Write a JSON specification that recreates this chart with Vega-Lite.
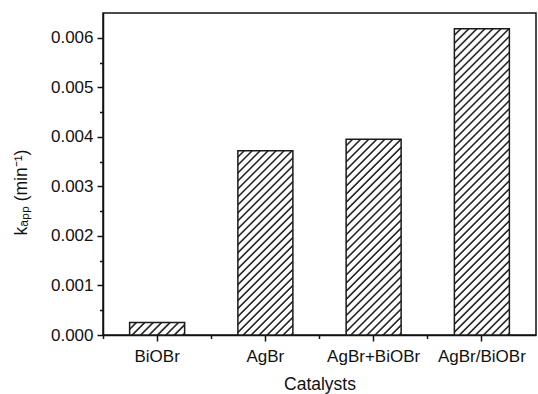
{
  "$schema": "https://vega.github.io/schema/vega-lite/v6.json",
  "width": 433,
  "height": 322,
  "autosize": {"type": "none"},
  "padding": {"left": 103, "top": 13, "right": 2, "bottom": 59},
  "background": "white",
  "config": {
    "view": {"stroke": "#111", "strokeWidth": 1.5},
    "font": "Liberation Sans",
    "axis": {"labelFont": "Liberation Sans", "titleFont": "Liberation Sans", "grid": false}
  },
  "data": {
    "values": [
      {"catalyst": "BiOBr", "kapp": 0.00025},
      {"catalyst": "AgBr", "kapp": 0.00372},
      {"catalyst": "AgBr+BiOBr", "kapp": 0.00395},
      {"catalyst": "AgBr/BiOBr", "kapp": 0.00618}
    ]
  },
  "layer": [
    {
      "mark": {"type": "bar", "width": 55, "stroke": "#1a1a1a", "strokeWidth": 1.5},
      "encoding": {
        "x": {
          "field": "catalyst", "type": "nominal", "sort": null,
          "scale": {"paddingInner": 0, "paddingOuter": 0},
          "axis": {
            "orient": "bottom", "title": "Catalysts", "labelAngle": 0, "labelFontSize": 17, "labelColor": "#111",
            "labelBaseline": "alphabetic", "labelPadding": 20.5, "labelOverlap": false,
            "tickSize": 6, "tickColor": "#111", "tickWidth": 1.5, "domainColor": "#111", "domainWidth": 1.5,
            "titleFontSize": 17.5, "titleFontWeight": "normal", "titleColor": "#111",
            "titleBaseline": "alphabetic", "titleY": 54.5
          }
        },
        "y": {
          "field": "kapp", "type": "quantitative",
          "scale": {"domain": [0, 0.0065], "nice": false, "zero": true},
          "axis": {
            "orient": "left", "title": "kₐₚₚ (min⁻¹)", "values": [0, 0.001, 0.002, 0.003, 0.004, 0.005, 0.006],
            "format": ".3f", "labelFontSize": 17, "labelColor": "#111", "labelPadding": 4,
            "tickSize": 6, "tickColor": "#111", "tickWidth": 1.5, "domainColor": "#111", "domainWidth": 1.5,
            "titleFontSize": 17.5, "titleFontWeight": "normal", "titleColor": "#111",
            "titleBaseline": "alphabetic", "titleAlign": "center", "titleAngle": 270, "titleX": -77, "titleY": 179
          }
        },
        "fill": {
          "condition": [
            {"test": "datum.catalyst === 'BiOBr'", "value": {"gradient": "linear", "x1": 0, "y1": 0, "x2": 1.1662, "y2": 0.2629, "stops": [
              {"offset":0,"color":"#fff"},{"offset":0.06875,"color":"#fff"},{"offset":0.09375,"color":"#222"},{"offset":0.10625,"color":"#222"},
              {"offset":0.125,"color":"#fff"},{"offset":0.19375,"color":"#fff"},{"offset":0.21875,"color":"#222"},{"offset":0.23125,"color":"#222"},
              {"offset":0.25,"color":"#fff"},{"offset":0.31875,"color":"#fff"},{"offset":0.34375,"color":"#222"},{"offset":0.35625,"color":"#222"},
              {"offset":0.375,"color":"#fff"},{"offset":0.44375,"color":"#fff"},{"offset":0.46875,"color":"#222"},{"offset":0.48125,"color":"#222"},
              {"offset":0.5,"color":"#fff"},{"offset":0.56875,"color":"#fff"},{"offset":0.59375,"color":"#222"},{"offset":0.60625,"color":"#222"},
              {"offset":0.625,"color":"#fff"},{"offset":0.69375,"color":"#fff"},{"offset":0.71875,"color":"#222"},{"offset":0.73125,"color":"#222"},
              {"offset":0.75,"color":"#fff"},{"offset":0.81875,"color":"#fff"},{"offset":0.84375,"color":"#222"},{"offset":0.85625,"color":"#222"},
              {"offset":0.875,"color":"#fff"},{"offset":0.94375,"color":"#fff"},{"offset":0.96875,"color":"#222"},{"offset":0.98125,"color":"#222"},
              {"offset":1,"color":"#fff"}
            ]}},
            {"test": "datum.catalyst === 'AgBr'", "value": {"gradient": "linear", "x1": 0, "y1": 0, "x2": 0.3558, "y2": 1.19226, "stops": [
              {"offset":0,"color":"#fff"},{"offset":0.01833,"color":"#fff"},{"offset":0.025,"color":"#222"},{"offset":0.02833,"color":"#222"},
              {"offset":0.03333,"color":"#fff"},{"offset":0.05167,"color":"#fff"},{"offset":0.05833,"color":"#222"},{"offset":0.06167,"color":"#222"},
              {"offset":0.06667,"color":"#fff"},{"offset":0.085,"color":"#fff"},{"offset":0.09167,"color":"#222"},{"offset":0.095,"color":"#222"},
              {"offset":0.1,"color":"#fff"},{"offset":0.11833,"color":"#fff"},{"offset":0.125,"color":"#222"},{"offset":0.12833,"color":"#222"},
              {"offset":0.13333,"color":"#fff"},{"offset":0.15167,"color":"#fff"},{"offset":0.15833,"color":"#222"},{"offset":0.16167,"color":"#222"},
              {"offset":0.16667,"color":"#fff"},{"offset":0.185,"color":"#fff"},{"offset":0.19167,"color":"#222"},{"offset":0.195,"color":"#222"},
              {"offset":0.2,"color":"#fff"},{"offset":0.21833,"color":"#fff"},{"offset":0.225,"color":"#222"},{"offset":0.22833,"color":"#222"},
              {"offset":0.23333,"color":"#fff"},{"offset":0.25167,"color":"#fff"},{"offset":0.25833,"color":"#222"},{"offset":0.26167,"color":"#222"},
              {"offset":0.26667,"color":"#fff"},{"offset":0.285,"color":"#fff"},{"offset":0.29167,"color":"#222"},{"offset":0.295,"color":"#222"},
              {"offset":0.3,"color":"#fff"},{"offset":0.31833,"color":"#fff"},{"offset":0.325,"color":"#222"},{"offset":0.32833,"color":"#222"},
              {"offset":0.33333,"color":"#fff"},{"offset":0.35167,"color":"#fff"},{"offset":0.35833,"color":"#222"},{"offset":0.36167,"color":"#222"},
              {"offset":0.36667,"color":"#fff"},{"offset":0.385,"color":"#fff"},{"offset":0.39167,"color":"#222"},{"offset":0.395,"color":"#222"},
              {"offset":0.4,"color":"#fff"},{"offset":0.41833,"color":"#fff"},{"offset":0.425,"color":"#222"},{"offset":0.42833,"color":"#222"},
              {"offset":0.43333,"color":"#fff"},{"offset":0.45167,"color":"#fff"},{"offset":0.45833,"color":"#222"},{"offset":0.46167,"color":"#222"},
              {"offset":0.46667,"color":"#fff"},{"offset":0.485,"color":"#fff"},{"offset":0.49167,"color":"#222"},{"offset":0.495,"color":"#222"},
              {"offset":0.5,"color":"#fff"},{"offset":0.51833,"color":"#fff"},{"offset":0.525,"color":"#222"},{"offset":0.52833,"color":"#222"},
              {"offset":0.53333,"color":"#fff"},{"offset":0.55167,"color":"#fff"},{"offset":0.55833,"color":"#222"},{"offset":0.56167,"color":"#222"},
              {"offset":0.56667,"color":"#fff"},{"offset":0.585,"color":"#fff"},{"offset":0.59167,"color":"#222"},{"offset":0.595,"color":"#222"},
              {"offset":0.6,"color":"#fff"},{"offset":0.61833,"color":"#fff"},{"offset":0.625,"color":"#222"},{"offset":0.62833,"color":"#222"},
              {"offset":0.63333,"color":"#fff"},{"offset":0.65167,"color":"#fff"},{"offset":0.65833,"color":"#222"},{"offset":0.66167,"color":"#222"},
              {"offset":0.66667,"color":"#fff"},{"offset":0.685,"color":"#fff"},{"offset":0.69167,"color":"#222"},{"offset":0.695,"color":"#222"},
              {"offset":0.7,"color":"#fff"},{"offset":0.71833,"color":"#fff"},{"offset":0.725,"color":"#222"},{"offset":0.72833,"color":"#222"},
              {"offset":0.73333,"color":"#fff"},{"offset":0.75167,"color":"#fff"},{"offset":0.75833,"color":"#222"},{"offset":0.76167,"color":"#222"},
              {"offset":0.76667,"color":"#fff"},{"offset":0.785,"color":"#fff"},{"offset":0.79167,"color":"#222"},{"offset":0.795,"color":"#222"},
              {"offset":0.8,"color":"#fff"},{"offset":0.81833,"color":"#fff"},{"offset":0.825,"color":"#222"},{"offset":0.82833,"color":"#222"},
              {"offset":0.83333,"color":"#fff"},{"offset":0.85167,"color":"#fff"},{"offset":0.85833,"color":"#222"},{"offset":0.86167,"color":"#222"},
              {"offset":0.86667,"color":"#fff"},{"offset":0.885,"color":"#fff"},{"offset":0.89167,"color":"#222"},{"offset":0.895,"color":"#222"},
              {"offset":0.9,"color":"#fff"},{"offset":0.91833,"color":"#fff"},{"offset":0.925,"color":"#222"},{"offset":0.92833,"color":"#222"},
              {"offset":0.93333,"color":"#fff"},{"offset":0.95167,"color":"#fff"},{"offset":0.95833,"color":"#222"},{"offset":0.96167,"color":"#222"},
              {"offset":0.96667,"color":"#fff"},{"offset":0.985,"color":"#fff"},{"offset":0.99167,"color":"#222"},{"offset":0.995,"color":"#222"},
              {"offset":1,"color":"#fff"}
            ]}},
            {"test": "datum.catalyst === 'AgBr+BiOBr'", "value": {"gradient": "linear", "x1": 0, "y1": 0, "x2": 0.33367, "y2": 1.18727, "stops": [
              {"offset":0,"color":"#fff"},{"offset":0.01774,"color":"#fff"},{"offset":0.02419,"color":"#222"},{"offset":0.02742,"color":"#222"},
              {"offset":0.03226,"color":"#fff"},{"offset":0.05,"color":"#fff"},{"offset":0.05645,"color":"#222"},{"offset":0.05968,"color":"#222"},
              {"offset":0.06452,"color":"#fff"},{"offset":0.08226,"color":"#fff"},{"offset":0.08871,"color":"#222"},{"offset":0.09194,"color":"#222"},
              {"offset":0.09677,"color":"#fff"},{"offset":0.11452,"color":"#fff"},{"offset":0.12097,"color":"#222"},{"offset":0.12419,"color":"#222"},
              {"offset":0.12903,"color":"#fff"},{"offset":0.14677,"color":"#fff"},{"offset":0.15323,"color":"#222"},{"offset":0.15645,"color":"#222"},
              {"offset":0.16129,"color":"#fff"},{"offset":0.17903,"color":"#fff"},{"offset":0.18548,"color":"#222"},{"offset":0.18871,"color":"#222"},
              {"offset":0.19355,"color":"#fff"},{"offset":0.21129,"color":"#fff"},{"offset":0.21774,"color":"#222"},{"offset":0.22097,"color":"#222"},
              {"offset":0.22581,"color":"#fff"},{"offset":0.24355,"color":"#fff"},{"offset":0.25,"color":"#222"},{"offset":0.25323,"color":"#222"},
              {"offset":0.25806,"color":"#fff"},{"offset":0.27581,"color":"#fff"},{"offset":0.28226,"color":"#222"},{"offset":0.28548,"color":"#222"},
              {"offset":0.29032,"color":"#fff"},{"offset":0.30806,"color":"#fff"},{"offset":0.31452,"color":"#222"},{"offset":0.31774,"color":"#222"},
              {"offset":0.32258,"color":"#fff"},{"offset":0.34032,"color":"#fff"},{"offset":0.34677,"color":"#222"},{"offset":0.35,"color":"#222"},
              {"offset":0.35484,"color":"#fff"},{"offset":0.37258,"color":"#fff"},{"offset":0.37903,"color":"#222"},{"offset":0.38226,"color":"#222"},
              {"offset":0.3871,"color":"#fff"},{"offset":0.40484,"color":"#fff"},{"offset":0.41129,"color":"#222"},{"offset":0.41452,"color":"#222"},
              {"offset":0.41935,"color":"#fff"},{"offset":0.4371,"color":"#fff"},{"offset":0.44355,"color":"#222"},{"offset":0.44677,"color":"#222"},
              {"offset":0.45161,"color":"#fff"},{"offset":0.46935,"color":"#fff"},{"offset":0.47581,"color":"#222"},{"offset":0.47903,"color":"#222"},
              {"offset":0.48387,"color":"#fff"},{"offset":0.50161,"color":"#fff"},{"offset":0.50806,"color":"#222"},{"offset":0.51129,"color":"#222"},
              {"offset":0.51613,"color":"#fff"},{"offset":0.53387,"color":"#fff"},{"offset":0.54032,"color":"#222"},{"offset":0.54355,"color":"#222"},
              {"offset":0.54839,"color":"#fff"},{"offset":0.56613,"color":"#fff"},{"offset":0.57258,"color":"#222"},{"offset":0.57581,"color":"#222"},
              {"offset":0.58065,"color":"#fff"},{"offset":0.59839,"color":"#fff"},{"offset":0.60484,"color":"#222"},{"offset":0.60806,"color":"#222"},
              {"offset":0.6129,"color":"#fff"},{"offset":0.63065,"color":"#fff"},{"offset":0.6371,"color":"#222"},{"offset":0.64032,"color":"#222"},
              {"offset":0.64516,"color":"#fff"},{"offset":0.6629,"color":"#fff"},{"offset":0.66935,"color":"#222"},{"offset":0.67258,"color":"#222"},
              {"offset":0.67742,"color":"#fff"},{"offset":0.69516,"color":"#fff"},{"offset":0.70161,"color":"#222"},{"offset":0.70484,"color":"#222"},
              {"offset":0.70968,"color":"#fff"},{"offset":0.72742,"color":"#fff"},{"offset":0.73387,"color":"#222"},{"offset":0.7371,"color":"#222"},
              {"offset":0.74194,"color":"#fff"},{"offset":0.75968,"color":"#fff"},{"offset":0.76613,"color":"#222"},{"offset":0.76935,"color":"#222"},
              {"offset":0.77419,"color":"#fff"},{"offset":0.79194,"color":"#fff"},{"offset":0.79839,"color":"#222"},{"offset":0.80161,"color":"#222"},
              {"offset":0.80645,"color":"#fff"},{"offset":0.82419,"color":"#fff"},{"offset":0.83065,"color":"#222"},{"offset":0.83387,"color":"#222"},
              {"offset":0.83871,"color":"#fff"},{"offset":0.85645,"color":"#fff"},{"offset":0.8629,"color":"#222"},{"offset":0.86613,"color":"#222"},
              {"offset":0.87097,"color":"#fff"},{"offset":0.88871,"color":"#fff"},{"offset":0.89516,"color":"#222"},{"offset":0.89839,"color":"#222"},
              {"offset":0.90323,"color":"#fff"},{"offset":0.92097,"color":"#fff"},{"offset":0.92742,"color":"#222"},{"offset":0.93065,"color":"#222"},
              {"offset":0.93548,"color":"#fff"},{"offset":0.95323,"color":"#fff"},{"offset":0.95968,"color":"#222"},{"offset":0.9629,"color":"#222"},
              {"offset":0.96774,"color":"#fff"},{"offset":0.98548,"color":"#fff"},{"offset":0.99194,"color":"#222"},{"offset":0.99516,"color":"#222"},
              {"offset":1,"color":"#fff"}
            ]}},
            {"test": "datum.catalyst === 'AgBr/BiOBr'", "value": {"gradient": "linear", "x1": 0, "y1": 0, "x2": 0.20526, "y2": 1.14274, "stops": [
              {"offset":0,"color":"#fff"},{"offset":0.01222,"color":"#fff"},{"offset":0.01667,"color":"#222"},{"offset":0.01889,"color":"#222"},
              {"offset":0.02222,"color":"#fff"},{"offset":0.03444,"color":"#fff"},{"offset":0.03889,"color":"#222"},{"offset":0.04111,"color":"#222"},
              {"offset":0.04444,"color":"#fff"},{"offset":0.05667,"color":"#fff"},{"offset":0.06111,"color":"#222"},{"offset":0.06333,"color":"#222"},
              {"offset":0.06667,"color":"#fff"},{"offset":0.07889,"color":"#fff"},{"offset":0.08333,"color":"#222"},{"offset":0.08556,"color":"#222"},
              {"offset":0.08889,"color":"#fff"},{"offset":0.10111,"color":"#fff"},{"offset":0.10556,"color":"#222"},{"offset":0.10778,"color":"#222"},
              {"offset":0.11111,"color":"#fff"},{"offset":0.12333,"color":"#fff"},{"offset":0.12778,"color":"#222"},{"offset":0.13,"color":"#222"},
              {"offset":0.13333,"color":"#fff"},{"offset":0.14556,"color":"#fff"},{"offset":0.15,"color":"#222"},{"offset":0.15222,"color":"#222"},
              {"offset":0.15556,"color":"#fff"},{"offset":0.16778,"color":"#fff"},{"offset":0.17222,"color":"#222"},{"offset":0.17444,"color":"#222"},
              {"offset":0.17778,"color":"#fff"},{"offset":0.19,"color":"#fff"},{"offset":0.19444,"color":"#222"},{"offset":0.19667,"color":"#222"},
              {"offset":0.2,"color":"#fff"},{"offset":0.21222,"color":"#fff"},{"offset":0.21667,"color":"#222"},{"offset":0.21889,"color":"#222"},
              {"offset":0.22222,"color":"#fff"},{"offset":0.23444,"color":"#fff"},{"offset":0.23889,"color":"#222"},{"offset":0.24111,"color":"#222"},
              {"offset":0.24444,"color":"#fff"},{"offset":0.25667,"color":"#fff"},{"offset":0.26111,"color":"#222"},{"offset":0.26333,"color":"#222"},
              {"offset":0.26667,"color":"#fff"},{"offset":0.27889,"color":"#fff"},{"offset":0.28333,"color":"#222"},{"offset":0.28556,"color":"#222"},
              {"offset":0.28889,"color":"#fff"},{"offset":0.30111,"color":"#fff"},{"offset":0.30556,"color":"#222"},{"offset":0.30778,"color":"#222"},
              {"offset":0.31111,"color":"#fff"},{"offset":0.32333,"color":"#fff"},{"offset":0.32778,"color":"#222"},{"offset":0.33,"color":"#222"},
              {"offset":0.33333,"color":"#fff"},{"offset":0.34556,"color":"#fff"},{"offset":0.35,"color":"#222"},{"offset":0.35222,"color":"#222"},
              {"offset":0.35556,"color":"#fff"},{"offset":0.36778,"color":"#fff"},{"offset":0.37222,"color":"#222"},{"offset":0.37444,"color":"#222"},
              {"offset":0.37778,"color":"#fff"},{"offset":0.39,"color":"#fff"},{"offset":0.39444,"color":"#222"},{"offset":0.39667,"color":"#222"},
              {"offset":0.4,"color":"#fff"},{"offset":0.41222,"color":"#fff"},{"offset":0.41667,"color":"#222"},{"offset":0.41889,"color":"#222"},
              {"offset":0.42222,"color":"#fff"},{"offset":0.43444,"color":"#fff"},{"offset":0.43889,"color":"#222"},{"offset":0.44111,"color":"#222"},
              {"offset":0.44444,"color":"#fff"},{"offset":0.45667,"color":"#fff"},{"offset":0.46111,"color":"#222"},{"offset":0.46333,"color":"#222"},
              {"offset":0.46667,"color":"#fff"},{"offset":0.47889,"color":"#fff"},{"offset":0.48333,"color":"#222"},{"offset":0.48556,"color":"#222"},
              {"offset":0.48889,"color":"#fff"},{"offset":0.50111,"color":"#fff"},{"offset":0.50556,"color":"#222"},{"offset":0.50778,"color":"#222"},
              {"offset":0.51111,"color":"#fff"},{"offset":0.52333,"color":"#fff"},{"offset":0.52778,"color":"#222"},{"offset":0.53,"color":"#222"},
              {"offset":0.53333,"color":"#fff"},{"offset":0.54556,"color":"#fff"},{"offset":0.55,"color":"#222"},{"offset":0.55222,"color":"#222"},
              {"offset":0.55556,"color":"#fff"},{"offset":0.56778,"color":"#fff"},{"offset":0.57222,"color":"#222"},{"offset":0.57444,"color":"#222"},
              {"offset":0.57778,"color":"#fff"},{"offset":0.59,"color":"#fff"},{"offset":0.59444,"color":"#222"},{"offset":0.59667,"color":"#222"},
              {"offset":0.6,"color":"#fff"},{"offset":0.61222,"color":"#fff"},{"offset":0.61667,"color":"#222"},{"offset":0.61889,"color":"#222"},
              {"offset":0.62222,"color":"#fff"},{"offset":0.63444,"color":"#fff"},{"offset":0.63889,"color":"#222"},{"offset":0.64111,"color":"#222"},
              {"offset":0.64444,"color":"#fff"},{"offset":0.65667,"color":"#fff"},{"offset":0.66111,"color":"#222"},{"offset":0.66333,"color":"#222"},
              {"offset":0.66667,"color":"#fff"},{"offset":0.67889,"color":"#fff"},{"offset":0.68333,"color":"#222"},{"offset":0.68556,"color":"#222"},
              {"offset":0.68889,"color":"#fff"},{"offset":0.70111,"color":"#fff"},{"offset":0.70556,"color":"#222"},{"offset":0.70778,"color":"#222"},
              {"offset":0.71111,"color":"#fff"},{"offset":0.72333,"color":"#fff"},{"offset":0.72778,"color":"#222"},{"offset":0.73,"color":"#222"},
              {"offset":0.73333,"color":"#fff"},{"offset":0.74556,"color":"#fff"},{"offset":0.75,"color":"#222"},{"offset":0.75222,"color":"#222"},
              {"offset":0.75556,"color":"#fff"},{"offset":0.76778,"color":"#fff"},{"offset":0.77222,"color":"#222"},{"offset":0.77444,"color":"#222"},
              {"offset":0.77778,"color":"#fff"},{"offset":0.79,"color":"#fff"},{"offset":0.79444,"color":"#222"},{"offset":0.79667,"color":"#222"},
              {"offset":0.8,"color":"#fff"},{"offset":0.81222,"color":"#fff"},{"offset":0.81667,"color":"#222"},{"offset":0.81889,"color":"#222"},
              {"offset":0.82222,"color":"#fff"},{"offset":0.83444,"color":"#fff"},{"offset":0.83889,"color":"#222"},{"offset":0.84111,"color":"#222"},
              {"offset":0.84444,"color":"#fff"},{"offset":0.85667,"color":"#fff"},{"offset":0.86111,"color":"#222"},{"offset":0.86333,"color":"#222"},
              {"offset":0.86667,"color":"#fff"},{"offset":0.87889,"color":"#fff"},{"offset":0.88333,"color":"#222"},{"offset":0.88556,"color":"#222"},
              {"offset":0.88889,"color":"#fff"},{"offset":0.90111,"color":"#fff"},{"offset":0.90556,"color":"#222"},{"offset":0.90778,"color":"#222"},
              {"offset":0.91111,"color":"#fff"},{"offset":0.92333,"color":"#fff"},{"offset":0.92778,"color":"#222"},{"offset":0.93,"color":"#222"},
              {"offset":0.93333,"color":"#fff"},{"offset":0.94556,"color":"#fff"},{"offset":0.95,"color":"#222"},{"offset":0.95222,"color":"#222"},
              {"offset":0.95556,"color":"#fff"},{"offset":0.96778,"color":"#fff"},{"offset":0.97222,"color":"#222"},{"offset":0.97444,"color":"#222"},
              {"offset":0.97778,"color":"#fff"},{"offset":0.99,"color":"#fff"},{"offset":0.99444,"color":"#222"},{"offset":0.99667,"color":"#222"},
              {"offset":1,"color":"#fff"}
            ]}}
          ],
          "value": "#fff"
        }
      }
    },
    {
      "mark": {"type": "bar", "width": 55, "opacity": 0},
      "encoding": {
        "x": {
          "field": "catalyst", "type": "nominal", "sort": null,
          "axis": {"orient": "bottom", "bandPosition": 0, "labels": false, "domain": false, "title": null, "tickSize": 3.5, "tickColor": "#111", "tickWidth": 1.5}
        },
        "y": {
          "field": "kapp", "type": "quantitative",
          "axis": {"orient": "left", "values": [0.0005, 0.0015, 0.0025, 0.0035, 0.0045, 0.0055], "labels": false, "domain": false, "title": null, "tickSize": 3.5, "tickColor": "#111", "tickWidth": 1.5}
        }
      }
    }
  ],
  "resolve": {"axis": {"x": "independent", "y": "independent"}}
}
